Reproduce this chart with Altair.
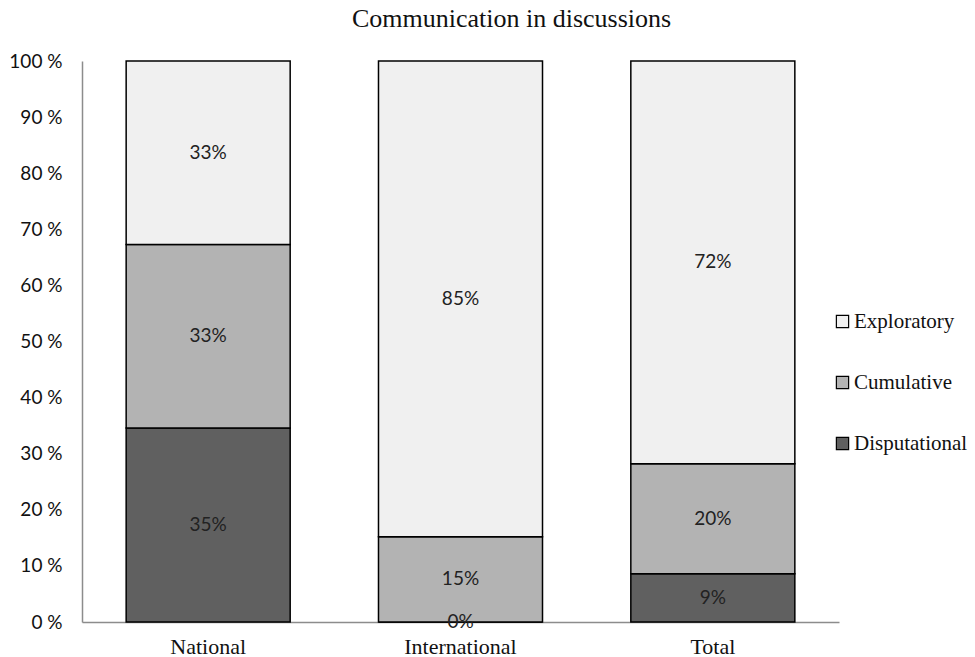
import altair as alt
import pandas as pd

# Share of each communication type per group (fractions of 1)
groups = ["National", "International", "Total"]
types = ["Disputational", "Cumulative", "Exploratory"]
disputational = [0.346, 0.0, 0.086]
cumulative = [0.327, 0.152, 0.196]
exploratory = [0.327, 0.848, 0.718]

legend_order = ["Exploratory", "Cumulative", "Disputational"]
fills = ["#f0f0f0", "#b3b3b3", "#606060"]
y_ticks = [i / 10 for i in range(11)]

rows = []
for i, g in enumerate(groups):
    for rank, (t, vals) in enumerate(zip(types, [disputational, cumulative, exploratory])):
        rows.append({"group": g, "type": t, "rank": rank, "share": vals[i]})
df = pd.DataFrame(rows)

SERIF = "Liberation Serif"
SANS = "Lato"

base = alt.Chart(df).transform_stack(
    stack="share",
    as_=["y0", "y1"],
    groupby=["group"],
    sort=[alt.SortField("rank", order="ascending")],
).transform_calculate(
    mid="(datum.y0 + datum.y1) / 2",
    label="format(datum.share, '.0%')",
)

x_enc = alt.X(
    "group:N",
    sort=groups,
    title=None,
    scale=alt.Scale(paddingInner=0.35, paddingOuter=0.175),
    axis=alt.Axis(
        labelAngle=0,
        ticks=False,
        domainColor="#8c8c8c",
        domainWidth=1.5,
        labelFont=SERIF,
        labelFontSize=22,
        labelColor="#111111",
        labelPadding=14,
    ),
)

bars = base.mark_bar(stroke="black", strokeWidth=1.5).encode(
    x=x_enc,
    y=alt.Y(
        "y0:Q",
        title=None,
        scale=alt.Scale(domain=[0, 1], nice=False),
        axis=alt.Axis(
            values=y_ticks,
            labelExpr="round(datum.value * 100) + ' %'",
            ticks=False,
            grid=False,
            domainColor="#8c8c8c",
            domainWidth=1.5,
            labelFont=SANS,
            labelFontSize=19,
            labelColor="#111111",
            labelPadding=20,
        ),
    ),
    y2="y1:Q",
    color=alt.Color(
        "type:N",
        scale=alt.Scale(domain=legend_order, range=fills),
        legend=alt.Legend(
            title=None,
            orient="none",
            legendX=750,
            legendY=250,
            padding=0,
            symbolType="square",
            symbolSize=150,
            symbolStrokeColor="black",
            symbolStrokeWidth=1.2,
            symbolOpacity=1,
            labelFont=SERIF,
            labelFontSize=21,
            labelColor="#111111",
            labelOffset=1,
            rowPadding=39,
        ),
    ),
)

labels = base.mark_text(
    font=SANS, fontSize=19, color="#222222", align="center", baseline="middle"
).encode(
    x=alt.X("group:N", sort=groups),
    y=alt.Y("mid:Q"),
    text="label:N",
)

chart = (
    alt.layer(bars, labels)
    .properties(
        width=757,
        height=561,
        autosize=alt.AutoSizeParams(type="none"),
        padding={"left": 82, "top": 61, "right": 136, "bottom": 35},
        title=alt.TitleParams(
            "Communication in discussions",
            font=SERIF,
            fontSize=26,
            fontWeight="normal",
            color="#111111",
            anchor="middle",
            dx=51,
            offset=20,
        ),
    )
    .configure_view(stroke=None)
)

chart.save("out.html", embed_options={"renderer": "svg", "actions": False})
